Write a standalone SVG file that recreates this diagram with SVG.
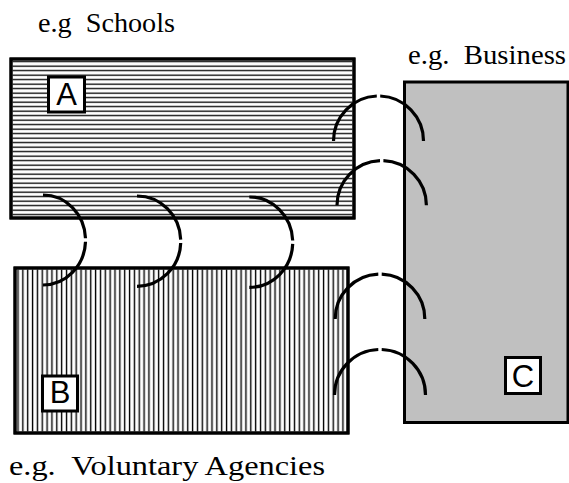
<svg xmlns="http://www.w3.org/2000/svg" width="569" height="483" viewBox="0 0 569 483">
<defs>
<pattern id="hatchH" patternUnits="userSpaceOnUse" x="0" y="59.5" width="10" height="4.5"><rect x="0" y="1.5" width="10" height="1.3" fill="#000"/></pattern>
<pattern id="hatchV" patternUnits="userSpaceOnUse" x="15.5" y="0" width="4.85" height="10"><rect x="1.8" y="0" width="1.4" height="10" fill="#000"/></pattern>
</defs>
<style>
.box{stroke:#000;stroke-width:3}
.lbl{fill:#fff;stroke:#000;stroke-width:3}
.lt{font-family:"Liberation Sans",Arial,sans-serif;font-size:31px;text-anchor:middle;fill:#000}
.cap{font-family:"Liberation Serif","Times New Roman",serif;font-size:28px;fill:#000;white-space:pre}
.arc{fill:none;stroke:#000;stroke-width:3.2}
</style>
<rect width="569" height="483" fill="#fff"/>
<g id="nodeA">
<rect class="box" x="11" y="59" width="343" height="159" fill="#fff"/>
<rect x="12.5" y="60.5" width="340" height="156" fill="url(#hatchH)"/>
<rect class="box" x="11" y="59" width="343" height="159" fill="none"/>
<rect class="lbl" x="48.5" y="77" width="36" height="35"/>
<text class="lt" x="66.5" y="105">A</text>
</g>
<g id="nodeB">
<rect class="box" x="15" y="268" width="333" height="165" fill="#fff"/>
<rect x="16.5" y="269.5" width="330" height="162" fill="url(#hatchV)"/>
<rect class="box" x="15" y="268" width="333" height="165" fill="none"/>
<rect class="lbl" x="42.5" y="376" width="35" height="35"/>
<text class="lt" x="60" y="403">B</text>
</g>
<g id="nodeC">
<rect class="box" x="404.5" y="82" width="163.5" height="340.5" fill="#c0c0c0"/>
<rect class="lbl" x="505.5" y="357.5" width="35" height="36"/>
<text class="lt" x="523" y="387">C</text>
</g>
<g id="captions">
<text class="cap" x="38" y="32" textLength="137" lengthAdjust="spacingAndGlyphs">e.g  Schools</text>
<text class="cap" x="408" y="64" textLength="158" lengthAdjust="spacingAndGlyphs">e.g.  Business</text>
<text class="cap" x="9" y="475" textLength="316" lengthAdjust="spacingAndGlyphs">e.g.  Voluntary Agencies</text>
</g>
<g id="connectors">
<path class="arc" d="M333.5,141 A45,45 0 0 1 376.8,96 M380.2,96 A45,45 0 0 1 423.5,141"/>
<path class="arc" d="M337,205.3 A44.7,44.7 0 0 1 380,160.6 M383.4,160.6 A44.7,44.7 0 0 1 426.4,205.3"/>
<path class="arc" d="M335.2,319 A44.8,44.8 0 0 1 378.3,274.2 M381.7,274.2 A44.8,44.8 0 0 1 424.8,319"/>
<path class="arc" d="M334.5,395 A45.5,45.5 0 0 1 378.3,349.5 M381.7,349.5 A45.5,45.5 0 0 1 425.5,395"/>
<path class="arc" d="M43,195 A42.5,45 0 0 1 85.5,238.3 M85.5,241.7 A42.5,45 0 0 1 43,285"/>
<path class="arc" d="M137,196 A43.7,45 0 0 1 180.7,239.6 M180.7,243 A43.7,45 0 0 1 137,286.3"/>
<path class="arc" d="M249.3,197 A43.4,45.2 0 0 1 292.7,240.5 M292.7,243.9 A43.4,45.2 0 0 1 249.3,287.4"/>
</g>
</svg>
